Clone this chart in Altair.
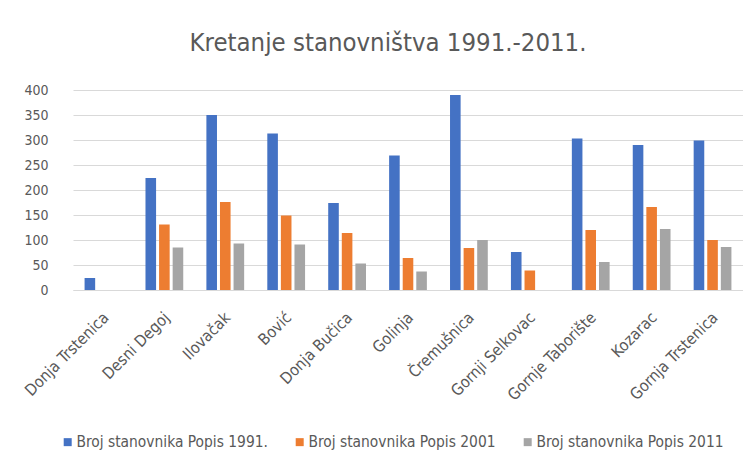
import altair as alt
import pandas as pd

places = ["Donja Trstenica", "Desni Degoj", "Ilovačak", "Bović", "Donja Bučica",
          "Golinja", "Čremušnica", "Gornji Selkovac", "Gornje Taborište", "Kozarac",
          "Gornja Trstenica"]
series = ["Broj stanovnika Popis 1991.", "Broj stanovnika Popis 2001", "Broj stanovnika Popis 2011"]
popis_1991 = [24, 224, 350, 313, 174, 269, 390, 76, 303, 290, 299]
popis_2001 = [None, 131, 176, 149, 114, 64, 84, 39, 120, 166, 100]
popis_2011 = [None, 85, 93, 91, 53, 37, 100, None, 56, 122, 86]
colors = ["#4472C4", "#ED7D31", "#A5A5A5"]

rows = []
for name, vals in zip(series, [popis_1991, popis_2001, popis_2011]):
    for p, v in zip(places, vals):
        rows.append({"mjesto": p, "serija": name, "vrijednost": v})
df = pd.DataFrame(rows)

FONT = "Liberation Sans Narrow, DejaVu Sans Condensed, Lato"
GREY = "#595959"

chart = alt.Chart(df).mark_bar().encode(
    x=alt.X("mjesto:N", sort=places, title=None,
            scale=alt.Scale(paddingInner=0.38, paddingOuter=0.19),
            axis=alt.Axis(labelAngle=-45, labelAlign="right", labelBaseline="top",
                          labelPadding=19, labelFontSize=16, labelColor=GREY, labelFont=FONT,
                          ticks=False, domainColor="#d9d9d9", labelOffset=-3, labelLimit=300)),
    xOffset=alt.XOffset("serija:N", sort=series, scale=alt.Scale(paddingInner=0.22)),
    y=alt.Y("vrijednost:Q", title=None,
            scale=alt.Scale(domain=[0, 400]),
            axis=alt.Axis(values=[0, 50, 100, 150, 200, 250, 300, 350, 400],
                          ticks=False, domain=False, gridColor="#d9d9d9",
                          labelPadding=25, labelFontSize=14, labelColor=GREY, labelFont=FONT)),
    color=alt.Color("serija:N", sort=series,
                    scale=alt.Scale(domain=series, range=colors),
                    legend=alt.Legend(title=None, orient="none", direction="horizontal",
                                      legendX=-13, legendY=344, symbolType="square",
                                      symbolSize=64, symbolStrokeWidth=0,
                                      labelFontSize=15.4, labelColor=GREY, labelFont=FONT,
                                      labelLimit=400, columnPadding=24, labelOffset=1)),
).properties(
    width=670, height=200,
    title=alt.Title("Kretanje stanovništva 1991.-2011.", fontSize=25.5, font=FONT,
                    color=GREY, fontWeight="normal", offset=27, dx=-20),
    autosize=alt.AutoSizeParams(type="none"),
    padding={"left": 65, "top": 82, "right": 0, "bottom": 168},
).configure_view(stroke=None)

chart.save("out.html", embed_options={"renderer": "svg", "actions": False})
